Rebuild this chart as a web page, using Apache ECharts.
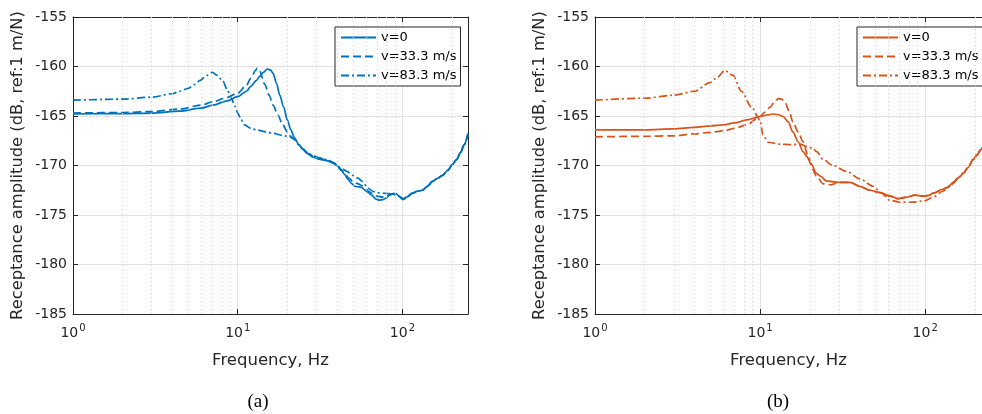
<!DOCTYPE html>
<html>
<head>
<meta charset="utf-8">
<script src="https://cdn.jsdelivr.net/npm/echarts@6/dist/echarts.min.js"></script>
<style>
html,body{margin:0;padding:0;background:#fff;}
#chart{width:982px;height:414px;}
</style>
</head>
<body>
<div id="chart"></div>
<script>
// ---------- Data ----------
const legendNames = ['v=0', 'v=33.3 m/s', 'v=83.3 m/s'];
const xTickPowers = [0, 1, 2];
const minorGridFreqs = [2,3,4,5,6,7,8,9,20,30,40,50,60,70,80,90,200];
const yTicks = [-185, -180, -175, -170, -165, -160, -155];

// Panel (a)
const aFreq0 = [1,2,3,4.45,6,7.1,8.5,10,11.3,12,13,13.6,14.3,15.1,15.8,16.4,17.2,18,19,20,21,22.1,23.5,24.9,26.5,28.6,31,34.5,37.9,40,42.5,44.5,46.7,49,51.2,56.1,61.7,65,69.2,72.5,76,79.5,83.4,87.3,91.6,96,101,106,115,123,132,142,152,163,175,188,201,213,225,237,250];
const aAmp0  = [-164.8,-164.75,-164.7,-164.5,-164.2,-163.9,-163.5,-163.05,-162.5,-162.0,-161.4,-161.0,-160.6,-160.25,-160.35,-160.7,-161.7,-162.9,-164.1,-165.4,-166.4,-167.2,-167.9,-168.4,-168.8,-169.15,-169.35,-169.5,-169.75,-170.0,-170.4,-170.9,-171.4,-171.8,-172.1,-172.2,-172.7,-173.0,-173.4,-173.5,-173.45,-173.3,-173.0,-172.85,-172.85,-173.15,-173.45,-173.2,-172.8,-172.6,-172.5,-172.1,-171.6,-171.3,-171.0,-170.5,-169.9,-169.4,-168.7,-167.9,-166.8];

const aFreq1 = [1,2,3,4.45,6,7.1,8.5,10,11.3,12,12.85,13.1,13.6,14.6,15.5,16.4,17.5,18.8,20,21.1,22.1,23.5,24.9,26.5,28.6,31,34.5,37.9,40,42.5,45,47.5,50,53,56,60,65,70,76,80,85,90,95,101,106,115,123,132,142,152,163,175,188,201,213,225,237,250];
const aAmp1  = [-164.7,-164.65,-164.55,-164.3,-163.9,-163.55,-163.15,-162.7,-161.9,-161.2,-160.4,-160.15,-160.5,-161.8,-162.9,-163.9,-164.9,-165.9,-166.6,-167.1,-167.4,-167.9,-168.35,-168.75,-169.05,-169.3,-169.4,-169.7,-170.0,-170.5,-170.9,-171.3,-171.6,-171.8,-172.0,-172.4,-172.8,-173.1,-173.2,-173.1,-172.9,-172.9,-173.1,-173.4,-173.2,-172.8,-172.6,-172.5,-172.1,-171.6,-171.3,-171.0,-170.5,-169.9,-169.4,-168.7,-167.9,-166.8];

const aFreq2 = [1,2,3,4,4.45,5,5.5,5.9,6.5,7.0,7.5,8.15,8.6,9.15,9.6,10,10.5,11,12,13,14.9,16.4,18.5,20.7,22,23.5,25,26.5,28.6,31,34.5,38,42,46,50,54,57,62,66,70,76,82,88,94,101,106,115,123,132,142,152,163,175,188,201,213,225,237,250];
const aAmp2  = [-163.4,-163.3,-163.1,-162.75,-162.5,-162.2,-161.8,-161.4,-160.9,-160.6,-160.9,-161.5,-162.3,-163.2,-164.0,-164.7,-165.4,-165.9,-166.25,-166.4,-166.6,-166.75,-166.95,-167.1,-167.3,-167.9,-168.35,-168.7,-169.0,-169.2,-169.4,-169.7,-170.2,-170.6,-171.0,-171.3,-171.6,-172.3,-172.6,-172.75,-172.8,-172.85,-172.9,-173.1,-173.35,-173.2,-172.8,-172.6,-172.5,-172.1,-171.6,-171.3,-171.0,-170.5,-169.9,-169.4,-168.7,-167.9,-166.8];

// Panel (b)
const bFreq0 = [1,2,3,4,5,6,7,8.3,10,11,12,12.8,13.8,14.8,15.8,17,18.2,19.2,20.3,22,23.3,25.2,28.1,30.4,35,40.2,46.2,53,61,68.6,77,86.6,97.3,104,112,128,137,148,160,170,182,195,207,217,230];
const bAmp0  = [-166.4,-166.4,-166.3,-166.15,-166.0,-165.9,-165.7,-165.4,-165.05,-164.9,-164.8,-164.85,-165.05,-165.6,-166.6,-167.6,-168.6,-169.1,-169.8,-170.8,-171.1,-171.55,-171.65,-171.7,-171.7,-172.1,-172.5,-172.7,-173.05,-173.35,-173.2,-173.0,-173.1,-173.05,-172.8,-172.4,-172.2,-171.7,-171.2,-170.8,-170.2,-169.4,-168.9,-168.4,-167.6];

const bFreq1 = [1,2,3,4,5,6,7,8.3,10,10.7,11.5,12.3,12.9,13.5,14.1,15,15.8,17,18.2,19.5,20.8,22,24.1,27.1,29.7,32,35,40.2,46.2,53,61,68.6,77,86.6,97.3,104,112,128,137,148,160,170,182,195,207,217,230];
const bAmp1  = [-167.1,-167.05,-167.0,-166.8,-166.65,-166.5,-166.25,-165.9,-165.05,-164.6,-164.1,-163.5,-163.25,-163.3,-163.55,-164.5,-165.6,-166.6,-167.6,-169.0,-170.4,-171.1,-171.85,-171.95,-171.7,-171.7,-171.7,-172.1,-172.5,-172.75,-173.1,-173.35,-173.2,-173.0,-173.1,-173.05,-172.8,-172.4,-172.2,-171.7,-171.2,-170.8,-170.2,-169.4,-168.9,-168.4,-167.6];

const bFreq2 = [1,2,3,4,5,5.5,6.1,6.86,7.7,8.87,10,10.4,11.2,13.2,15.4,17.4,19.5,21,22,24.1,27.7,33.4,40.2,48.4,54.4,61,70.2,84.5,97.3,112,128,141,148,160,170,182,195,207,217,230];
const bAmp2  = [-163.4,-163.2,-162.9,-162.5,-161.6,-161.1,-160.4,-160.9,-162.5,-164.1,-165.4,-166.9,-167.65,-167.85,-167.9,-167.85,-168.1,-168.3,-168.6,-169.4,-170.0,-170.6,-171.35,-172.1,-172.8,-173.5,-173.7,-173.7,-173.6,-173.2,-172.6,-172.1,-171.8,-171.2,-170.8,-170.2,-169.4,-168.9,-168.4,-167.6];

// ---------- Styling ----------
const BLUE = '#0072BD', ORANGE = '#D95319';
const AX = '#262626';
const FONT = '"DejaVu Sans", sans-serif';
const dashStyles = ['solid', [8, 4], [8, 3, 2, 3]];

function zip(xs, ys){ return xs.map((x,i)=>[x, ys[i]]); }

const panels = [
  { prefix: 'a|', color: BLUE,   sets: [[aFreq0,aAmp0],[aFreq1,aAmp1],[aFreq2,aAmp2]], left: 73,  width: 395, xMax: 250, legendLeft: 335, rightAxis: true },
  { prefix: 'b|', color: ORANGE, sets: [[bFreq0,bAmp0],[bFreq1,bAmp1],[bFreq2,bAmp2]], left: 595, width: 387, xMax: 221, legendLeft: 857, rightAxis: false }
];

const grids = panels.map(p => ({ left: p.left, top: 17, width: p.width, height: 297, show: false }));

function xLabelFmt(v){
  const p = Math.log10(v);
  const r = Math.round(p);
  if (Math.abs(p - r) > 1e-6 || xTickPowers.indexOf(r) < 0) return '';
  return '{b|10}{s|' + r + '}';
}

const xAxes = [];
const yAxes = [];
panels.forEach((p, i) => {
  xAxes.push({
    gridIndex: i, type: 'log', logBase: 10, min: 1, max: p.xMax,
    axisLine: { show: true, lineStyle: { color: AX, width: 1 } },
    axisTick: { show: true, inside: true, length: 5, lineStyle: { color: AX } },
    splitLine: { show: true, lineStyle: { color: '#e2e2e2', width: 1 } },
    axisLabel: {
      formatter: xLabelFmt, margin: 9, showMaxLabel: false,
      rich: {
        b: { fontFamily: FONT, fontSize: 14, color: AX, verticalAlign: 'bottom' },
        s: { fontFamily: FONT, fontSize: 10, color: AX, verticalAlign: 'bottom', padding: [0, 0, 7, 1] }
      }
    },
    name: 'Frequency, Hz', nameLocation: 'middle', nameGap: 38,
    nameTextStyle: { fontFamily: FONT, fontSize: 16.5, color: AX }
  });
  yAxes.push({
    gridIndex: i, type: 'value', min: -185, max: -155, interval: 5,
    axisLine: { show: true, lineStyle: { color: AX, width: 1 } },
    axisTick: { show: true, inside: true, length: 5, lineStyle: { color: AX } },
    splitLine: { show: true, lineStyle: { color: '#e2e2e2', width: 1 } },
    axisLabel: { fontFamily: FONT, fontSize: 14, color: AX, margin: 6 },
    name: 'Receptance amplitude (dB, ref:1 m/N)', nameLocation: 'middle', nameGap: 47,
    nameTextStyle: { fontFamily: FONT, fontSize: 16.3, color: AX }
  });
});
// top / right companion axes (ticks only)
panels.forEach((p, i) => {
  xAxes.push({ gridIndex: i, type: 'log', logBase: 10, min: 1, max: p.xMax, position: 'top',
    axisLine: { show: true, lineStyle: { color: AX } }, axisTick: { show: true, inside: true, length: 5, lineStyle: { color: AX } },
    axisLabel: { show: false }, splitLine: { show: false } });
  yAxes.push({ gridIndex: i, type: 'value', min: -185, max: -155, interval: 5, position: 'right',
    axisLine: { show: p.rightAxis, lineStyle: { color: AX } }, axisTick: { show: p.rightAxis, inside: true, length: 5, lineStyle: { color: AX } },
    axisLabel: { show: false }, splitLine: { show: false } });
});

const series = [];
panels.forEach((p, i) => {
  // minor dotted grid lines at 2..9 x decade
  series.push({
    name: 'minorgrid' + i, type: 'line', xAxisIndex: i, yAxisIndex: i, data: [], z: 1, silent: true,
    markLine: {
      silent: true, symbol: ['none', 'none'], label: { show: false }, animation: false,
      lineStyle: { color: '#cfcfcf', type: [1, 3], width: 1 },
      data: minorGridFreqs.filter(f => f <= p.xMax).map(f => ({ xAxis: f }))
    }
  });
  p.sets.forEach((s, k) => {
    series.push({
      name: p.prefix + legendNames[k], type: 'line', xAxisIndex: i, yAxisIndex: i,
      data: zip(s[0], s[1]), showSymbol: false, symbol: 'none', smooth: 0.3, smoothMonotone: 'x',
      z: 3, color: p.color,
      lineStyle: { color: p.color, width: 1.7, type: dashStyles[k] }
    });
  });
});

const legends = panels.map(p => ({
  data: legendNames.map(n => p.prefix + n),
  orient: 'vertical', left: p.legendLeft, top: 27,
  itemWidth: 35, itemHeight: 14, itemGap: 6,
  padding: [4, 4, 4, 5],
  borderColor: AX, borderWidth: 1, backgroundColor: '#fff',
  itemStyle: { opacity: 0, color: 'rgba(0,0,0,0)', borderColor: 'rgba(0,0,0,0)', borderWidth: 0 },
  formatter: n => n.slice(2), selectedMode: false,
  textStyle: { fontFamily: FONT, fontSize: 13, color: '#000' }
}));

const option = {
  animation: false,
  backgroundColor: '#fff',
  grid: grids,
  xAxis: xAxes,
  yAxis: yAxes,
  legend: legends,
  series: series,
  graphic: [
    { type: 'text', x: 258, y: 402, style: { text: '(a)', font: '19px "Liberation Serif", serif', fill: '#000', align: 'center', verticalAlign: 'middle' } },
    { type: 'text', x: 778, y: 402, style: { text: '(b)', font: '19px "Liberation Serif", serif', fill: '#000', align: 'center', verticalAlign: 'middle' } }
  ]
};

const chart = echarts.init(document.getElementById('chart'), null, { renderer: 'canvas' });
chart.setOption(option);
</script>
</body>
</html>
